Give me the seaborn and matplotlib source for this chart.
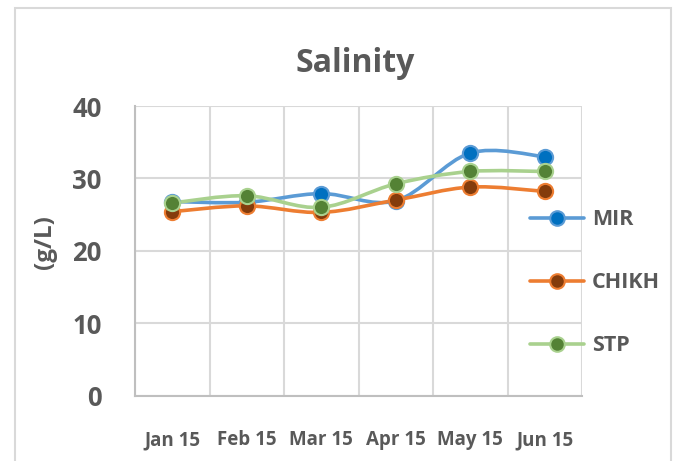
import numpy as np
import pandas as pd
import matplotlib
matplotlib.use('Agg')
import matplotlib.pyplot as plt
import seaborn as sns
from matplotlib.path import Path
from matplotlib.patches import PathPatch, Rectangle
from matplotlib.lines import Line2D

months = ['Jan 15', 'Feb 15', 'Mar 15', 'Apr 15', 'May 15', 'Jun 15']
mir = [26.8, 26.7, 27.9, 26.9, 33.5, 33.0]
chikh = [25.4, 26.2, 25.3, 27.0, 28.8, 28.2]
stp = [26.6, 27.6, 26.0, 29.25, 30.95, 30.95]

series = ['MIR', 'CHIKH', 'STP']
line_col = {'MIR': '#5B9BD5', 'CHIKH': '#ED7D31', 'STP': '#A9D18E'}
face_col = {'MIR': '#0070C0', 'CHIKH': '#843C0C', 'STP': '#548235'}

df = pd.DataFrame({'month': months * 3,
                   'site': ['MIR'] * 6 + ['CHIKH'] * 6 + ['STP'] * 6,
                   'val': mir + chikh + stp})

sns.set_style('white')
plt.rcParams['font.family'] = ['Open Sans', 'DejaVu Sans']
txt = '#595959'

fig = plt.figure(figsize=(6.76, 4.61), dpi=100)
fig.patches.append(Rectangle((15 / 676, -0.05), 656 / 676, 1 - 8 / 461 + 0.05,
                             transform=fig.transFigure, fill=False,
                             edgecolor='#D9D9D9', linewidth=1.5))
ax = fig.add_axes([135 / 676, 1 - 395.5 / 461, 447 / 676, 289.5 / 461])


def smooth_path(ys):
    # excel style smoothed line (bezier through the points)
    pts = [(i, y) for i, y in enumerate(ys)]
    verts = [pts[0]]
    codes = [Path.MOVETO]
    n = len(pts)
    for i in range(n - 1):
        p0 = pts[max(i - 1, 0)]
        p1 = pts[i]
        p2 = pts[i + 1]
        p3 = pts[min(i + 2, n - 1)]
        c1 = (p1[0] + (p2[0] - p0[0]) / 6, p1[1] + (p2[1] - p0[1]) / 6)
        c2 = (p2[0] - (p3[0] - p1[0]) / 6, p2[1] - (p3[1] - p1[1]) / 6)
        verts += [c1, c2, p2]
        codes += [Path.CURVE4] * 3
    return Path(verts, codes)


for s in series:
    sub = df[df['site'] == s]
    ax.add_patch(PathPatch(smooth_path(list(sub['val'])), fill=False,
                           edgecolor=line_col[s], linewidth=2.6,
                           capstyle='round', zorder=3))
    sns.scatterplot(x=np.arange(len(sub)), y=sub['val'].values, ax=ax,
                    s=120, color=face_col[s], edgecolor=line_col[s],
                    linewidth=1.5, zorder=4)

ax.set_xlim(-0.5, len(months) - 0.5)
ax.set_ylim(0, 40)
ax.set_yticks([0, 10, 20, 30, 40])
ax.set_xticks(range(len(months)))
ax.set_xticklabels(months)
ax.set_xticks(np.arange(-0.5, len(months), 1), minor=True)
ax.grid(True, which='major', axis='y', color='#D9D9D9', linewidth=1.5)
ax.grid(True, which='minor', axis='x', color='#D9D9D9', linewidth=1.5)
ax.grid(False, which='major', axis='x')
ax.set_axisbelow(True)
for side in ['top', 'right']:
    ax.spines[side].set_visible(False)
for side in ['left', 'bottom']:
    ax.spines[side].set_color('#BFBFBF')
    ax.spines[side].set_linewidth(1.5)
ax.tick_params(which='both', length=0)
ax.tick_params(axis='y', labelsize=18.5, labelcolor=txt, pad=24)
ax.tick_params(axis='x', labelsize=13.5, labelcolor=txt, pad=25)
for lab in ax.get_xticklabels() + ax.get_yticklabels():
    lab.set_fontweight('bold')
ax.set_xlabel('')
ax.set_ylabel('(g/L)', fontsize=17.5, fontweight='bold', color=txt)
ax.yaxis.set_label_coords((57 - 135) / 447, (395.5 - 242) / 289.5)
fig.text(355 / 676, 1 - 63 / 461, 'Salinity', ha='center', va='center',
         fontsize=23, fontweight='bold', color=txt)

handles = [Line2D([], [], color=line_col[s], linewidth=2.6, marker='o',
                  markersize=10.5, markerfacecolor=face_col[s],
                  markeredgecolor=line_col[s], markeredgewidth=1.5)
           for s in series]
leg = fig.legend(handles, series, loc='upper left',
                 bbox_to_anchor=(511 / 676, 1 - 190 / 461), frameon=False,
                 handlelength=2.5, handletextpad=0.35, labelspacing=1.95,
                 prop={'size': 15.5, 'weight': 'bold'})
for t in leg.get_texts():
    t.set_color(txt)

fig.savefig('out.png', dpi=100)
